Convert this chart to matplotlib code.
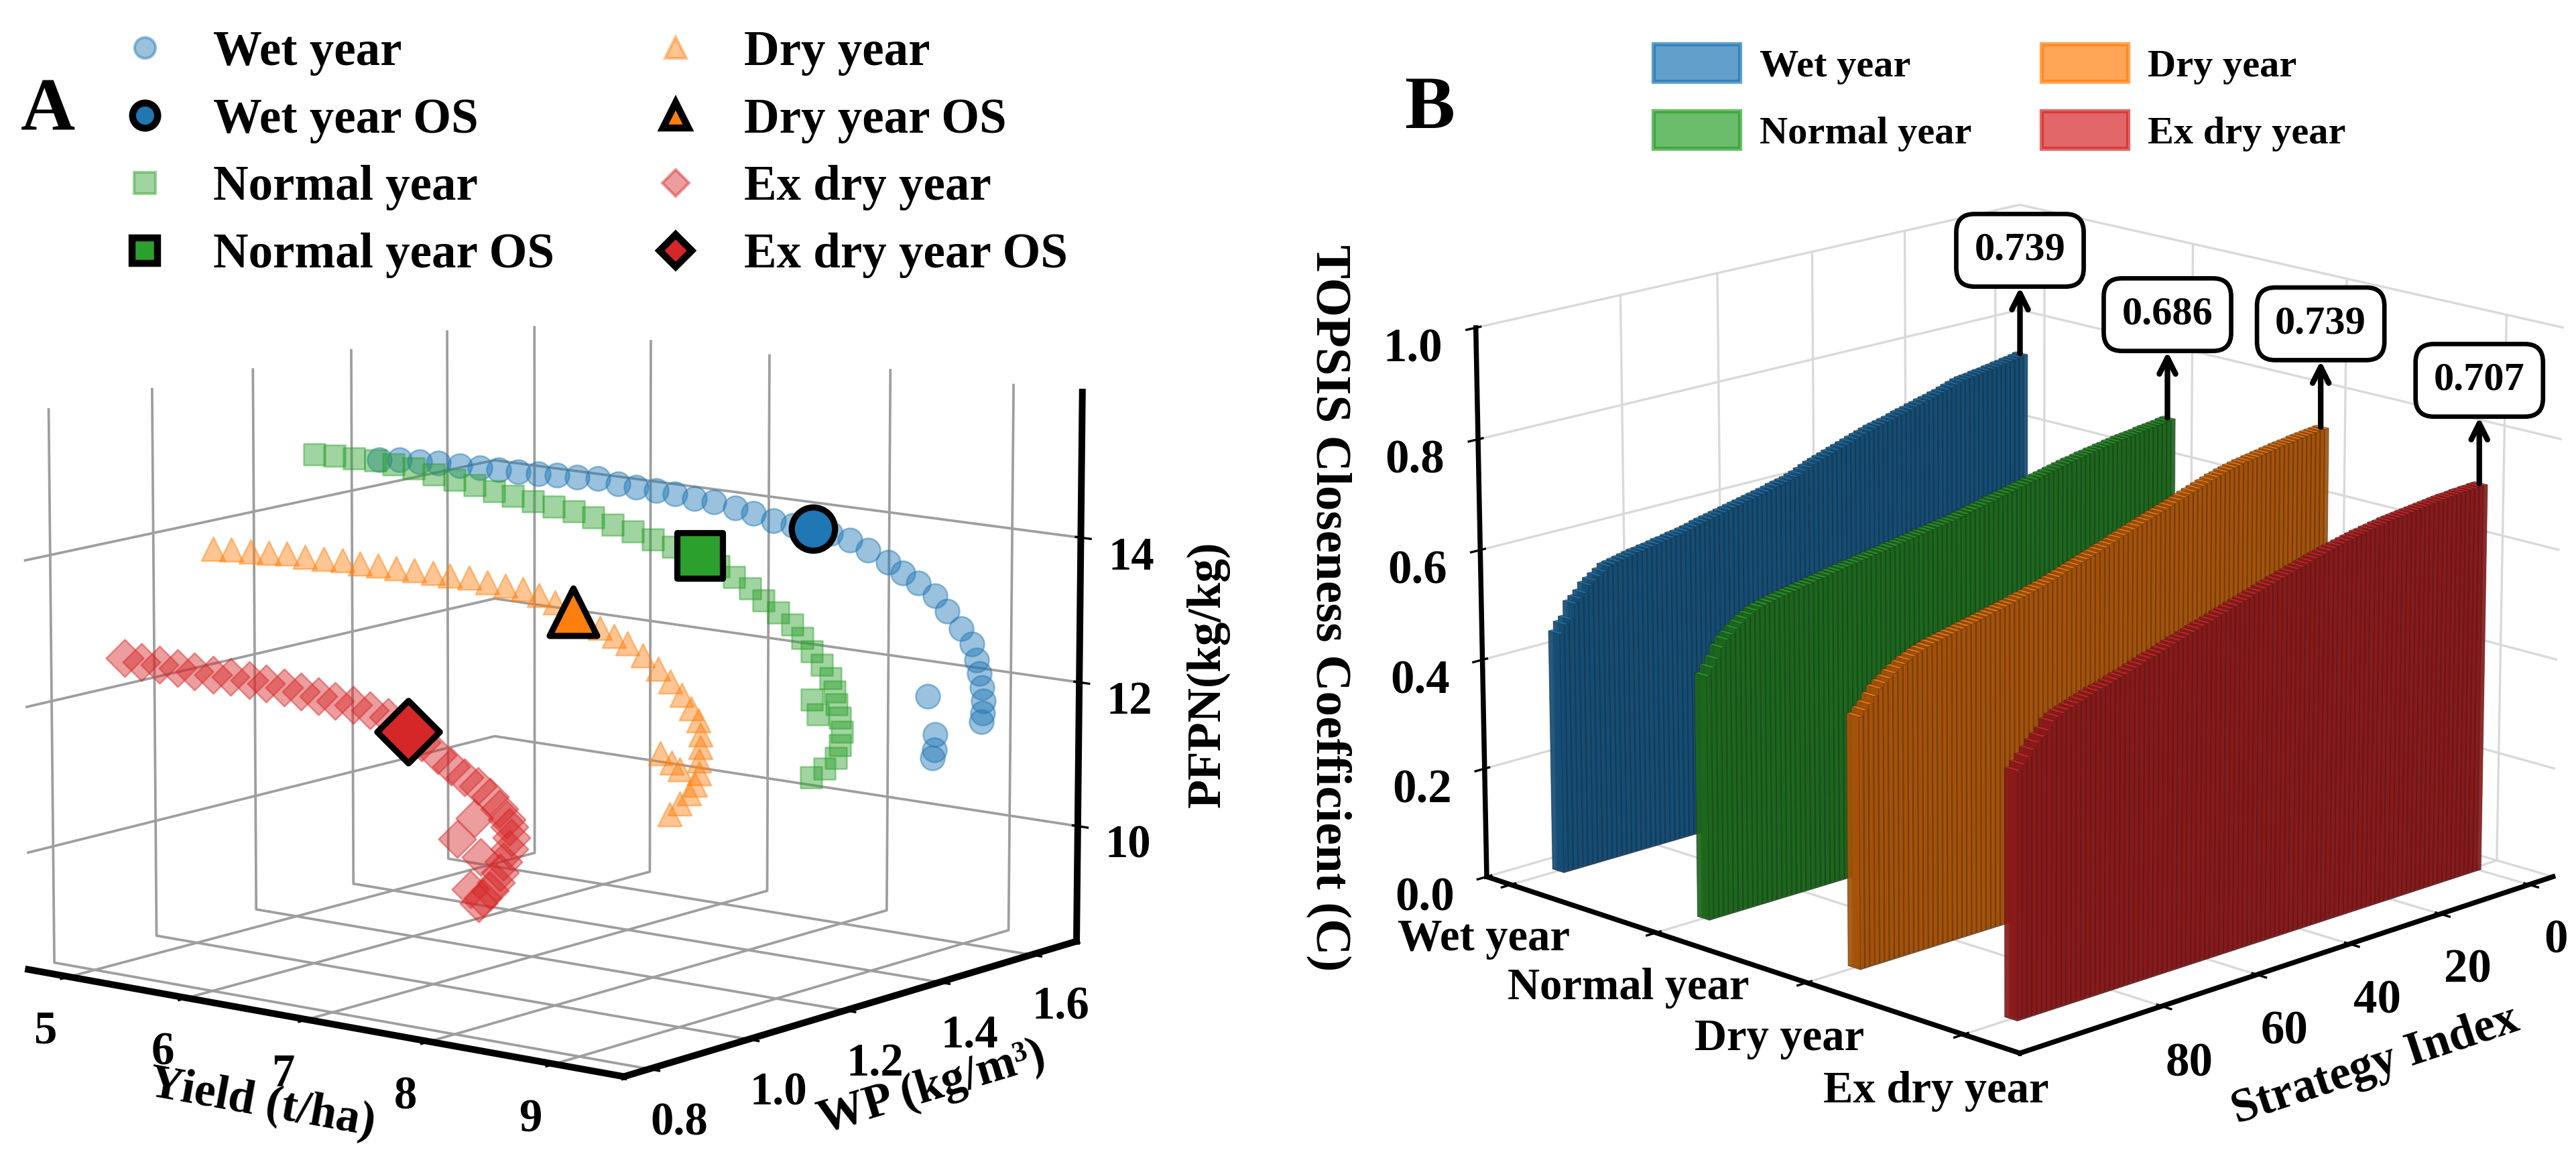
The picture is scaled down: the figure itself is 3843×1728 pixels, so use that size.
import numpy as np
import matplotlib
matplotlib.use("Agg")
import matplotlib.pyplot as plt
from matplotlib.lines import Line2D
from matplotlib.patches import Patch
from matplotlib.colors import to_rgba, LightSource
from matplotlib.ticker import FormatStrFormatter
from mpl_toolkits.mplot3d import proj3d

plt.rcParams['font.family'] = ['Liberation Serif', 'DejaVu Serif']
plt.rcParams['font.weight'] = 'bold'
plt.rcParams['axes.labelweight'] = 'bold'

# ---------------- Panel A data: Pareto solutions ----------------
WET_YIELD = [6.87, 6.95, 7.03, 7.10, 7.19, 7.27, 7.34, 7.42, 7.50, 7.57, 7.65, 7.74, 7.82, 7.89,
             7.97, 8.04, 8.12, 8.20, 8.29, 8.36, 8.44, 8.52, 8.67, 8.75, 8.82, 8.90, 8.96, 9.02,
             9.09, 9.14, 9.20, 9.25, 9.27, 9.28, 9.29, 9.30, 9.30, 9.29, 9.06, 9.09, 9.09, 9.08]
WET_WP = [0.927, 0.948, 0.968, 0.988, 1.009, 1.029, 1.050, 1.070, 1.090, 1.111, 1.131, 1.151,
          1.172, 1.192, 1.212, 1.233, 1.253, 1.273, 1.294, 1.314, 1.335, 1.355, 1.396, 1.416,
          1.436, 1.457, 1.474, 1.491, 1.508, 1.521, 1.535, 1.545, 1.550, 1.554, 1.557, 1.558,
          1.557, 1.557, 1.502, 1.510, 1.509, 1.508]
WET_PFPN = [15.60, 15.59, 15.55, 15.52, 15.47, 15.43, 15.39, 15.35, 15.31, 15.28, 15.24, 15.21,
            15.13, 15.07, 15.01, 14.95, 14.88, 14.82, 14.73, 14.64, 14.53, 14.45, 14.31, 14.21,
            14.06, 13.88, 13.72, 13.57, 13.39, 13.17, 12.92, 12.71, 12.48, 12.29, 12.10, 11.91,
            11.75, 11.63, 12.01, 11.48, 11.27, 11.16]
WET_OS = [8.60, 1.377, 14.39]

NORMAL_YIELD = [6.23, 6.33, 6.43, 6.54, 6.63, 6.73, 6.83, 6.94, 7.04, 7.14, 7.23, 7.33, 7.44,
                7.54, 7.64, 7.74, 7.84, 7.94, 8.04, 8.27, 8.35, 8.43, 8.50, 8.57, 8.64, 8.69,
                8.74, 8.79, 8.84, 8.86, 8.87, 8.89, 8.90, 8.89, 8.87, 8.81, 8.74, 8.74, 8.77]
NORMAL_WP = [0.952, 0.967, 0.982, 0.998, 1.013, 1.028, 1.044, 1.059, 1.075, 1.090, 1.105, 1.121,
             1.136, 1.152, 1.167, 1.182, 1.198, 1.213, 1.229, 1.265, 1.277, 1.289, 1.300, 1.312,
             1.324, 1.332, 1.339, 1.347, 1.353, 1.356, 1.357, 1.360, 1.362, 1.360, 1.357, 1.349,
             1.339, 1.339, 1.344]
NORMAL_PFPN = [15.50, 15.48, 15.44, 15.42, 15.36, 15.31, 15.22, 15.15, 15.08, 15.00, 14.93, 14.86,
               14.79, 14.72, 14.64, 14.54, 14.45, 14.34, 14.24, 13.97, 13.83, 13.67, 13.51, 13.34,
               13.18, 12.99, 12.81, 12.63, 12.45, 12.27, 12.09, 11.91, 11.72, 11.53, 11.36, 11.21,
               11.09, 12.15, 11.95]
NORMAL_OS = [8.18, 1.249, 14.12]

DRY_YIELD = [5.60, 5.69, 5.79, 5.88, 5.97, 6.06, 6.16, 6.25, 6.34, 6.43, 6.52, 6.61, 6.71, 6.79,
             6.89, 6.98, 7.07, 7.16, 7.24, 7.32, 7.46, 7.54, 7.61, 7.68, 7.76, 7.84, 7.90, 7.96,
             8.01, 8.05, 8.06, 8.06, 8.05, 8.05, 8.03, 8.00, 7.95, 7.90, 7.85, 7.95, 7.91]
DRY_WP = [0.900, 0.914, 0.928, 0.943, 0.958, 0.972, 0.986, 1.001, 1.015, 1.029, 1.044, 1.058,
          1.072, 1.086, 1.101, 1.115, 1.129, 1.143, 1.156, 1.169, 1.195, 1.206, 1.217, 1.227,
          1.239, 1.250, 1.260, 1.269, 1.276, 1.281, 1.282, 1.283, 1.282, 1.282, 1.279, 1.274,
          1.267, 1.260, 1.252, 1.267, 1.261]
DRY_PFPN = [14.15, 14.14, 14.12, 14.10, 14.08, 14.04, 14.01, 13.99, 13.95, 13.92, 13.88, 13.85,
            13.82, 13.78, 13.75, 13.69, 13.64, 13.59, 13.51, 13.41, 13.17, 13.05, 12.94, 12.84,
            12.68, 12.50, 12.32, 12.14, 11.96, 11.79, 11.60, 11.42, 11.24, 11.06, 10.91, 10.79,
            10.65, 10.50, 11.34, 11.12, 11.21]
DRY_OS = [7.41, 1.183, 13.28]

EXDRY_YIELD = [5.21, 5.29, 5.38, 5.47, 5.55, 5.64, 5.73, 5.82, 5.90, 5.99, 6.07, 6.16, 6.24, 6.33,
               6.41, 6.50, 6.66, 6.74, 6.81, 6.88, 6.95, 7.01, 7.06, 7.10, 7.11, 7.12, 7.11, 7.08,
               7.06, 7.04, 7.01, 6.97, 6.84, 6.93, 6.96, 6.91, 6.95]
EXDRY_WP = [0.815, 0.829, 0.844, 0.859, 0.873, 0.888, 0.902, 0.917, 0.931, 0.946, 0.960, 0.974,
            0.988, 1.003, 1.017, 1.031, 1.060, 1.072, 1.082, 1.093, 1.103, 1.113, 1.119, 1.125,
            1.128, 1.129, 1.127, 1.123, 1.120, 1.117, 1.112, 1.107, 1.087, 1.101, 1.105, 1.097,
            1.104]
EXDRY_PFPN = [12.70, 12.65, 12.61, 12.56, 12.51, 12.46, 12.43, 12.39, 12.34, 12.28, 12.22, 12.16,
              12.09, 12.03, 11.96, 11.86, 11.51, 11.33, 11.18, 11.03, 10.91, 10.76, 10.60, 10.45,
              10.35, 10.20, 10.04, 9.87, 9.72, 9.58, 9.47, 9.37, 10.18, 10.47, 9.93, 9.49, 9.29]
EXDRY_OS = [6.60, 1.047, 11.66]

# ---------------- Panel B data: TOPSIS closeness ----------------
YEAR_LABELS = ['Wet year', 'Normal year', 'Dry year', 'Ex dry year']
STRATEGY = np.arange(100)
WET_C = [0.739, 0.737, 0.735, 0.734, 0.732, 0.731, 0.729, 0.728, 0.726, 0.725,
         0.724, 0.722, 0.721, 0.720, 0.718, 0.715, 0.712, 0.709, 0.706, 0.704,
         0.701, 0.699, 0.697, 0.694, 0.692, 0.689, 0.687, 0.685, 0.682, 0.679,
         0.677, 0.675, 0.673, 0.671, 0.668, 0.665, 0.662, 0.659, 0.656, 0.653,
         0.650, 0.647, 0.644, 0.641, 0.638, 0.635, 0.632, 0.628, 0.624, 0.620,
         0.617, 0.614, 0.612, 0.610, 0.608, 0.605, 0.603, 0.601, 0.599, 0.597,
         0.595, 0.593, 0.591, 0.589, 0.587, 0.585, 0.583, 0.581, 0.579, 0.577,
         0.575, 0.572, 0.570, 0.568, 0.566, 0.565, 0.563, 0.561, 0.560, 0.558,
         0.556, 0.555, 0.553, 0.552, 0.550, 0.548, 0.546, 0.544, 0.542, 0.540,
         0.533, 0.527, 0.521, 0.515, 0.503, 0.495, 0.488, 0.462, 0.455, 0.440]
NORMAL_C = [0.686, 0.685, 0.683, 0.682, 0.681, 0.680, 0.679, 0.677, 0.676, 0.675,
            0.674, 0.673, 0.671, 0.670, 0.668, 0.667, 0.665, 0.664, 0.662, 0.661,
            0.659, 0.657, 0.656, 0.654, 0.652, 0.650, 0.648, 0.646, 0.644, 0.642,
            0.640, 0.638, 0.636, 0.634, 0.632, 0.630, 0.628, 0.626, 0.624, 0.622,
            0.620, 0.618, 0.616, 0.614, 0.612, 0.610, 0.608, 0.606, 0.604, 0.603,
            0.601, 0.600, 0.598, 0.597, 0.595, 0.594, 0.592, 0.591, 0.589, 0.588,
            0.586, 0.585, 0.583, 0.582, 0.580, 0.579, 0.577, 0.576, 0.574, 0.573,
            0.571, 0.570, 0.568, 0.567, 0.565, 0.563, 0.562, 0.560, 0.558, 0.557,
            0.555, 0.553, 0.552, 0.550, 0.548, 0.546, 0.544, 0.542, 0.540, 0.536,
            0.531, 0.526, 0.520, 0.513, 0.505, 0.498, 0.486, 0.468, 0.455, 0.442]
DRY_C = [0.739, 0.738, 0.737, 0.736, 0.735, 0.734, 0.733, 0.731, 0.730, 0.729,
         0.728, 0.726, 0.725, 0.723, 0.722, 0.720, 0.719, 0.717, 0.716, 0.714,
         0.712, 0.710, 0.708, 0.705, 0.703, 0.700, 0.697, 0.694, 0.691, 0.688,
         0.685, 0.682, 0.679, 0.676, 0.673, 0.670, 0.667, 0.664, 0.661, 0.658,
         0.655, 0.652, 0.649, 0.646, 0.643, 0.640, 0.636, 0.633, 0.630, 0.627,
         0.624, 0.621, 0.618, 0.615, 0.612, 0.609, 0.606, 0.603, 0.600, 0.597,
         0.594, 0.592, 0.589, 0.587, 0.584, 0.582, 0.580, 0.577, 0.575, 0.573,
         0.571, 0.569, 0.567, 0.565, 0.563, 0.561, 0.559, 0.557, 0.555, 0.553,
         0.551, 0.549, 0.547, 0.545, 0.543, 0.540, 0.537, 0.534, 0.530, 0.526,
         0.521, 0.516, 0.510, 0.503, 0.497, 0.490, 0.479, 0.467, 0.459, 0.450]
EXDRY_C = [0.707, 0.707, 0.706, 0.706, 0.705, 0.705, 0.704, 0.703, 0.703, 0.702,
           0.701, 0.700, 0.699, 0.698, 0.697, 0.696, 0.695, 0.694, 0.693, 0.692,
           0.691, 0.690, 0.688, 0.687, 0.685, 0.684, 0.682, 0.681, 0.679, 0.677,
           0.675, 0.673, 0.671, 0.669, 0.667, 0.664, 0.662, 0.660, 0.657, 0.655,
           0.652, 0.650, 0.647, 0.645, 0.642, 0.640, 0.637, 0.635, 0.632, 0.629,
           0.627, 0.624, 0.621, 0.619, 0.616, 0.613, 0.610, 0.608, 0.605, 0.602,
           0.599, 0.597, 0.594, 0.591, 0.588, 0.585, 0.583, 0.580, 0.577, 0.574,
           0.571, 0.568, 0.566, 0.563, 0.560, 0.557, 0.554, 0.551, 0.549, 0.546,
           0.543, 0.540, 0.538, 0.536, 0.533, 0.530, 0.527, 0.524, 0.521, 0.518,
           0.515, 0.511, 0.505, 0.492, 0.484, 0.476, 0.466, 0.456, 0.446, 0.437]

COLORS = ['#1f77b4', '#2ca02c', '#ff7f0e', '#d62728']
MARKERS = ['o', 's', '^', 'D']
SIZES = [75, 62, 72, 90]
OS_SIZES = [240, 270, 290, 250]

fig = plt.figure(figsize=(12.81, 5.76), dpi=300)

# ======================= Panel A =======================
axA = fig.add_axes([-0.0047, -0.078, 0.4294, 0.9549], projection='3d')
axA.set_proj_type('persp', focal_length=1.6)
axA.set_box_aspect(None, zoom=1.055)
axA.view_init(elev=11, azim=-52)
axA.computed_zorder = False

pareto = [(WET_YIELD, WET_WP, WET_PFPN, WET_OS),
          (NORMAL_YIELD, NORMAL_WP, NORMAL_PFPN, NORMAL_OS),
          (DRY_YIELD, DRY_WP, DRY_PFPN, DRY_OS),
          (EXDRY_YIELD, EXDRY_WP, EXDRY_PFPN, EXDRY_OS)]
for (yv, wv, pv, osv), col, mk, sz in zip(pareto, COLORS, MARKERS, SIZES):
    axA.scatter(yv, wv, pv, c=col, marker=mk, s=sz, alpha=0.45, edgecolors=col,
                linewidths=0.6, depthshade=False, zorder=2)
for (yv, wv, pv, osv), col, mk, sz in zip(pareto, COLORS, MARKERS, OS_SIZES):
    axA.scatter([osv[0]], [osv[1]], [osv[2]], c=col, marker=mk, s=sz, alpha=1,
                edgecolors='k', linewidths=2.2, depthshade=False, zorder=6)

axA.set_xlim(4.65, 9.55)
axA.set_ylim(0.75, 1.7)
axA.set_zlim(8.39, 16.0)
axA.set_xticks([5, 6, 7, 8, 9])
axA.set_yticks([0.8, 1.0, 1.2, 1.4, 1.6])
axA.set_zticks([10, 12, 14])
axA.yaxis.set_major_formatter(FormatStrFormatter('%.1f'))
axA.set_xlabel('Yield (t/ha)', fontsize=17, labelpad=3)
axA.set_ylabel('WP (kg/m³)', fontsize=17, labelpad=4)
axA.tick_params(axis='both', labelsize=16.5, pad=2)

for axis in (axA.xaxis, axA.yaxis, axA.zaxis):
    axis.set_pane_color((1, 1, 1, 0))
    axis.pane.set_edgecolor('0.45')
    axis.pane.set_linewidth(2.2)
    axis._axinfo['grid'].update({'color': (0.62, 0.62, 0.62, 1), 'linewidth': 0.9})
    axis.line.set_color('k')
    axis.line.set_linewidth(2.4)

# ======================= Panel B =======================
axB = fig.add_axes([0.5636, -0.0128, 0.4294, 0.9549], projection='3d')
axB.set_proj_type('persp', focal_length=1.3)
axB.set_box_aspect(None, zoom=1.07)
axB.view_init(elev=16, azim=45)

light = LightSource(azdeg=0, altdeg=90)
topsis = [WET_C, NORMAL_C, DRY_C, EXDRY_C]
for k, (vals, col) in enumerate(zip(topsis, COLORS)):
    vals = np.asarray(vals)
    n = len(vals)
    axB.bar3d(STRATEGY[:n] - 0.4, np.full(n, k) - 0.04, np.zeros(n), 0.8, 0.08, vals,
              color=to_rgba(col, 0.72), edgecolor=(0.1, 0.1, 0.1, 0.25), linewidth=0.25,
              shade=True, lightsource=light)

axB.set_xlim(-5.5, 109)
axB.set_ylim(-0.17, 3.35)
axB.set_zlim(0, 1.0)
axB.set_xticks([0, 20, 40, 60, 80])
axB.set_yticks(range(len(YEAR_LABELS)))
axB.set_yticklabels(YEAR_LABELS)
axB.set_zticks([0.0, 0.2, 0.4, 0.6, 0.8, 1.0])
axB.zaxis.set_major_formatter(FormatStrFormatter('%.1f'))
axB.set_xlabel('Strategy Index', fontsize=17, labelpad=8)
axB.tick_params(axis='x', labelsize=17, pad=2)
axB.tick_params(axis='y', labelsize=16, pad=2)
axB.tick_params(axis='z', labelsize=17, pad=4)

for axis in (axB.xaxis, axB.yaxis, axB.zaxis):
    axis.set_pane_color((1, 1, 1, 0))
    axis.pane.set_edgecolor('0.7')
    axis.pane.set_linewidth(1.4)
    axis._axinfo['grid'].update({'color': (0.85, 0.85, 0.85, 1), 'linewidth': 0.8})
    axis.line.set_color('k')
    axis.line.set_linewidth(1.8)

M = axB.get_proj()
for k, vals in enumerate(topsis):
    x2, y2, _ = proj3d.proj_transform(STRATEGY[0], k, vals[0], M)
    axB.annotate(f'{vals[0]:.3f}', xy=(x2, y2), xycoords='data',
                 xytext=(0, 37), textcoords='offset points', ha='center', va='center',
                 fontsize=14.5, fontweight='bold', zorder=20, annotation_clip=False,
                 bbox=dict(boxstyle='round,pad=0.45', fc='white', ec='black', lw=1.6),
                 arrowprops=dict(arrowstyle='<-', color='black', lw=2, shrinkA=0, shrinkB=0))

# ======================= Legends & labels =======================
hA, lA = [], []
for col, mk, lab in zip(COLORS, MARKERS, YEAR_LABELS):
    ms = 6.8 if mk == 'D' else 7.5
    hA.append(Line2D([], [], ls='none', marker=mk, ms=ms, mfc=col, mec=col, alpha=0.45))
    lA.append(lab)
    hA.append(Line2D([], [], ls='none', marker=mk, ms=ms + 1.5, mfc=col, mec='k', mew=2.5))
    lA.append(lab + ' OS')
fig.legend(hA, lA, loc='upper left', bbox_to_anchor=(0.0392, 0.991), ncol=2, frameon=False,
           fontsize=17.5, handlelength=1.0, handletextpad=0.9, columnspacing=1.98,
           labelspacing=0.45, borderaxespad=0)

hB = [Patch(facecolor=c, edgecolor=c, alpha=0.7, lw=1.5) for c in COLORS]
fig.legend(hB, YEAR_LABELS, loc='upper left', bbox_to_anchor=(0.636, 0.9755), ncol=2,
           frameon=False, fontsize=14, handlelength=2.2, handleheight=1.1,
           handletextpad=0.5, columnspacing=1.8, labelspacing=0.7, borderaxespad=0)

fig.text(0.0185, 0.903, 'A', fontsize=27, fontweight='bold', ha='center', va='center')
fig.text(0.555, 0.905, 'B', fontsize=27, fontweight='bold', ha='center', va='center')
fig.text(0.469, 0.418, 'PFPN(kg/kg)', rotation=90, fontsize=17, fontweight='bold',
         ha='center', va='center')
fig.text(0.516, 0.475, 'TOPSIS Closeness Coefficient (C)', rotation=-90, fontsize=18,
         fontweight='bold', ha='center', va='center')

fig.savefig('out.png', dpi=300)
